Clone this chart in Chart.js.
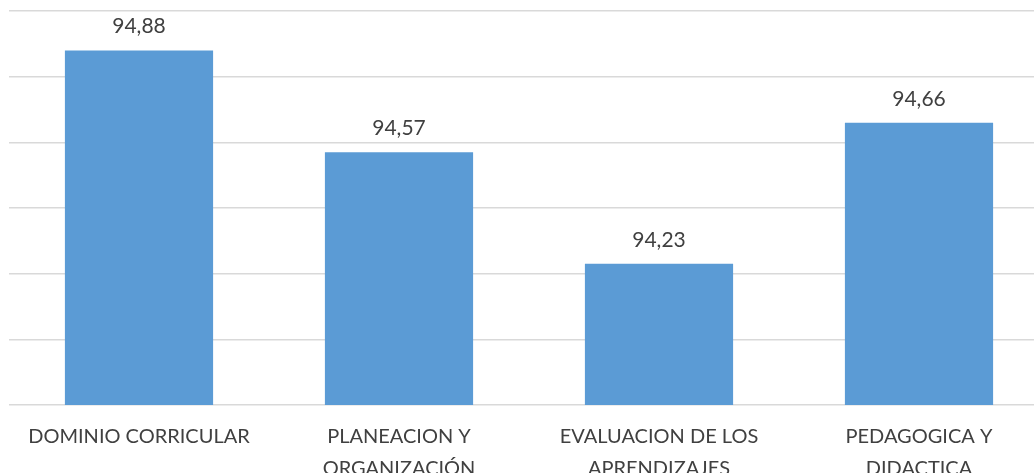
<!DOCTYPE html>
<html>
<head>
<meta charset="utf-8">
<script src="https://cdn.jsdelivr.net/npm/chart.js@4/dist/chart.umd.min.js"></script>
<style>
  html, body { margin: 0; padding: 0; background: #fff; overflow: hidden; }
  #wrap { width: 1049px; height: 473px; }
</style>
</head>
<body>
<div id="wrap"><canvas id="chart" width="1049" height="473"></canvas></div>
<script>
const categories = [
  ["DOMINIO CORRICULAR"],
  ["PLANEACION Y", "ORGANIZACIÓN"],
  ["EVALUACION DE LOS", "APRENDIZAJES"],
  ["PEDAGOGICA Y", "DIDACTICA"],
];
const scores = [94.88, 94.57, 94.23, 94.66];
const axisMin = 93.8;
const axisMax = 95.0;
const axisStep = 0.2;

const textColor = "#404040";
const fontFamily = "Lato, 'Open Sans', sans-serif";

// value labels above each bar, decimal comma
const barValues = {
  id: "barValues",
  afterDatasetsDraw(chart) {
    const ctx = chart.ctx;
    const meta = chart.getDatasetMeta(0);
    ctx.save();
    ctx.font = "21px " + fontFamily;
    ctx.fillStyle = textColor;
    ctx.textAlign = "center";
    ctx.textBaseline = "alphabetic";
    meta.data.forEach((bar, i) => {
      const txt = scores[i].toFixed(2).replace(".", ",");
      ctx.fillText(txt, bar.x, bar.y - 17);
    });
    ctx.restore();
  },
};

new Chart(document.getElementById("chart"), {
  type: "bar",
  data: {
    labels: categories,
    datasets: [
      {
        data: scores,
        backgroundColor: "#5B9BD5",
        borderWidth: 0,
        barPercentage: 0.57,
        categoryPercentage: 1,
      },
    ],
  },
  options: {
    responsive: false,
    animation: false,
    layout: { padding: { left: 9, top: 11, right: 0, bottom: 0 } },
    plugins: { legend: { display: false }, tooltip: { enabled: false } },
    scales: {
      x: {
        grid: { display: false, drawTicks: false },
        border: { display: false },
        ticks: {
          color: textColor,
          padding: 16,
          maxRotation: 0,
          font: { family: fontFamily, size: 20, lineHeight: 1.6 },
        },
        afterFit(scale) {
          scale.height = 68;
        },
      },
      y: {
        min: axisMin,
        max: axisMax,
        grid: { color: "#D9D9D9", lineWidth: 1.5, drawTicks: false },
        border: { display: false },
        ticks: { display: false, stepSize: axisStep },
        afterFit(scale) {
          scale.width = 0;
        },
      },
    },
  },
  plugins: [barValues],
});
</script>
</body>
</html>
